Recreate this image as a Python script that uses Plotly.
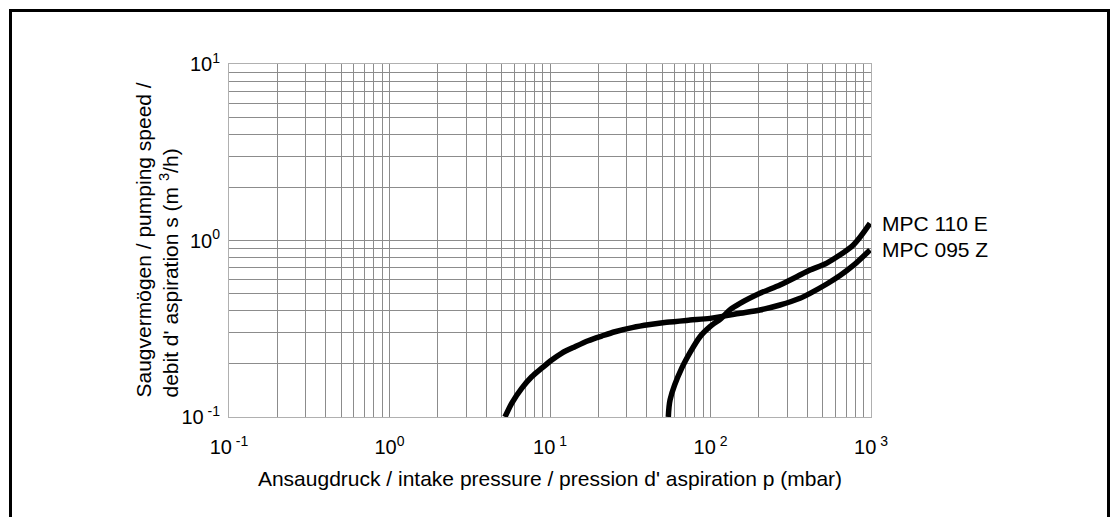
import math
import plotly.graph_objects as go

# MPC 095 Z (curve with plateau)
z_p = [5.24, 5.77, 6.66, 7.69, 8.88, 10.25, 11.8, 14.3, 17.3, 21.0, 25.4, 33.0, 42.0, 53.3, 74.5,
       99.3, 152.7, 203, 271, 361, 417, 530, 641, 776, 986]
z_s = [0.1, 0.1196, 0.1454, 0.169, 0.189, 0.2104, 0.2296, 0.25, 0.2705, 0.2876, 0.304, 0.322, 0.334,
       0.344, 0.354, 0.362, 0.387, 0.404, 0.431, 0.4706, 0.502, 0.567, 0.633, 0.722, 0.884]

# MPC 110 E (steep curve)
e_p = [54.6, 56.0, 66.2, 86.0, 99.3, 116.6, 132, 152.7, 203, 271, 361, 417, 530, 776, 986]
e_s = [0.1, 0.125, 0.189, 0.285, 0.325, 0.362, 0.404, 0.44, 0.502, 0.56, 0.637, 0.681, 0.745, 0.943, 1.25]

x_ticks = [0.1, 1, 10, 100, 1000]
x_ticktext = ["10<sup> -1</sup>", "10<sup>0</sup>", "10<sup> 1</sup>", "10<sup> 2</sup>", "10<sup> 3</sup>"]
y_ticks = [0.1, 1, 10]
y_ticktext = ["10<sup> -1</sup>", "10<sup>0</sup>", "10<sup>1</sup>"]

x_title = "Ansaugdruck / intake pressure / pression d' aspiration p (mbar)"
y_title = "Saugvermögen / pumping speed /<br>debit d' aspiration s (m <sup>3</sup>/h)"

FONT = "Liberation Sans, Arial, sans-serif"
GRID = "#8c8c8c"

fig = go.Figure()
fig.add_trace(go.Scatter(x=e_p, y=e_s, mode="lines",
                         line=dict(color="black", width=5.5, shape="spline", smoothing=0.8),
                         name="MPC 110 E", showlegend=False, hoverinfo="skip"))
fig.add_trace(go.Scatter(x=z_p, y=z_s, mode="lines",
                         line=dict(color="black", width=5.5, shape="spline", smoothing=0.8),
                         name="MPC 095 Z", showlegend=False, hoverinfo="skip"))

# curve labels (annotation coords on log axes are log10 values)
fig.add_annotation(x=math.log10(e_p[-1]) + 0.006, y=math.log10(e_s[-1]), xref="x", yref="y",
                   text="MPC 110 E", showarrow=False, xanchor="left", yanchor="middle", xshift=9,
                   font=dict(size=21, color="black", family=FONT))
fig.add_annotation(x=math.log10(z_p[-1]) + 0.006, y=math.log10(z_s[-1]), xref="x", yref="y",
                   text="MPC 095 Z", showarrow=False, xanchor="left", yanchor="middle", xshift=9,
                   font=dict(size=21, color="black", family=FONT))

# page geometry (page body margin is removed below)
FW, FH = 1111, 517
L, T, R, B = 229, 64, 871, 417
W, H = R - L, B - T

# y-axis title, left-aligned two-line rotated block
fig.add_annotation(x=(156 - L) / W, y=(B - 240.5) / H, xref="paper", yref="paper",
                   text=y_title, showarrow=False, textangle=-90, align="left",
                   xanchor="center", yanchor="middle",
                   font=dict(size=21, color="black", family=FONT))

fig.add_shape(type="rect", xref="paper", yref="paper",
              x0=(10.5 - L) / W, x1=(1108.5 - L) / W, y0=-(540 - B) / H, y1=1 + (T - 10.5) / H,
              line=dict(color="black", width=3), fillcolor="rgba(0,0,0,0)", layer="above")

fig.update_layout(
    width=FW, height=FH,
    margin=dict(l=L, r=FW - R, t=T, b=FH - B, autoexpand=False),
    paper_bgcolor="white", plot_bgcolor="white",
    font=dict(family=FONT, size=21, color="black"),
    xaxis=dict(type="log", range=[-1, 3], tickmode="array", tickvals=x_ticks, ticktext=x_ticktext,
               tickfont=dict(size=20),
               showgrid=True, gridcolor=GRID, gridwidth=1,
               minor=dict(dtick="D1", showgrid=True, gridcolor=GRID, gridwidth=1, ticks=""),
               ticks="outside", ticklen=12, tickcolor="rgba(0,0,0,0)",
               showline=True, linecolor="#b0b0b0", linewidth=1, mirror=True, zeroline=False,
               title=dict(text=x_title, standoff=14, font=dict(size=21))),
    yaxis=dict(type="log", range=[-1, 1], tickmode="array", tickvals=y_ticks, ticktext=y_ticktext,
               tickfont=dict(size=20),
               showgrid=True, gridcolor=GRID, gridwidth=1,
               minor=dict(dtick="D1", showgrid=True, gridcolor=GRID, gridwidth=1, ticks=""),
               ticks="outside", ticklen=4, tickcolor="rgba(0,0,0,0)",
               showline=True, linecolor="#b0b0b0", linewidth=1, mirror=True, zeroline=False),
)

fig.write_html("out.html", config={"displayModeBar": False},
               post_script="document.body.style.margin='0';document.body.style.overflow='hidden';")
